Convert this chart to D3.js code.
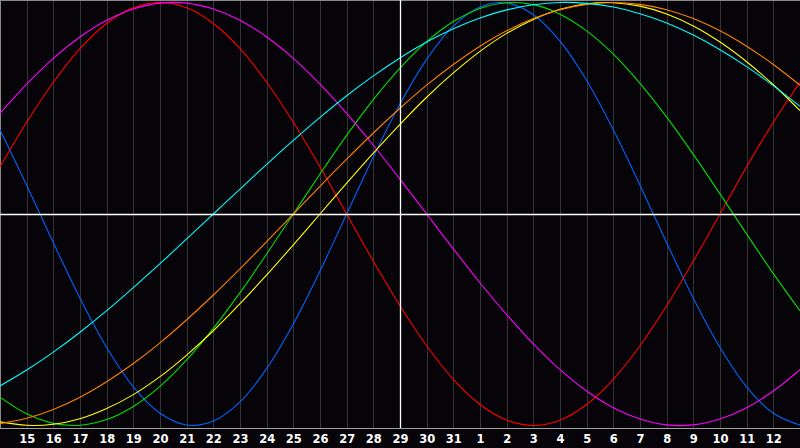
<!DOCTYPE html>
<html>
<head>
<meta charset="utf-8">
<script src="https://cdn.jsdelivr.net/npm/d3@7"></script>
<style>
html,body{margin:0;padding:0;background:#060409;}
svg{display:block;}
</style>
</head>
<body>
<svg id="chart" width="800" height="448"></svg>
<script>
// Day labels (gridlines 1..29); index 0 = day 14, index 30 = day 13 of next month
const dayLabels = ["15","16","17","18","19","20","21","22","23","24","25","26","27","28","29","30","31","1","2","3","4","5","6","7","8","9","10","11","12"];

// Cycle values per day (index 0..30)
const physical = [0.398,0.136,-0.136,-0.398,-0.631,-0.817,-0.942,-0.998,-0.979,-0.888,-0.731,-0.520,-0.270,0,0.270,0.520,0.731,0.888,0.979,0.998,0.942,0.817,0.631,0.398,0.136,-0.136,-0.398,-0.631,-0.817,-0.942,-0.998];
const emotional = [0.223,0.434,0.623,0.782,0.901,0.975,1,0.975,0.901,0.782,0.623,0.434,0.223,0,-0.223,-0.434,-0.623,-0.782,-0.901,-0.975,-1,-0.975,-0.901,-0.782,-0.623,-0.434,-0.223,0,0.223,0.434,0.623];
const intellectual = [-0.866,-0.945,-0.990,-0.999,-0.972,-0.910,-0.815,-0.690,-0.541,-0.372,-0.189,0,0.189,0.372,0.541,0.690,0.815,0.910,0.972,0.999,0.990,0.945,0.866,0.756,0.618,0.458,0.282,0.095,-0.095,-0.282,-0.458];
const intuitive = [0.476,0.614,0.736,0.837,0.916,0.969,0.997,0.997,0.969,0.916,0.837,0.736,0.614,0.476,0.325,0.165,0,-0.165,-0.325,-0.476,-0.614,-0.736,-0.837,-0.916,-0.969,-0.997,-0.997,-0.969,-0.916,-0.837,-0.736];
const aesthetic = [-0.983,-0.999,-0.994,-0.968,-0.920,-0.854,-0.769,-0.667,-0.552,-0.424,-0.288,-0.146,0,0.146,0.288,0.424,0.552,0.667,0.769,0.854,0.920,0.968,0.994,0.999,0.983,0.946,0.889,0.813,0.720,0.611,0.489];
const awareness = [-0.991,-0.966,-0.924,-0.866,-0.793,-0.707,-0.609,-0.5,-0.383,-0.259,-0.131,0,0.131,0.259,0.383,0.5,0.609,0.707,0.793,0.866,0.924,0.966,0.991,1,0.991,0.966,0.924,0.866,0.793,0.707,0.609];
const spiritual = [-0.813,-0.738,-0.653,-0.559,-0.457,-0.348,-0.235,-0.118,0,0.118,0.235,0.348,0.457,0.559,0.653,0.738,0.813,0.876,0.927,0.965,0.989,1.000,0.996,0.979,0.947,0.903,0.846,0.777,0.697,0.607,0.509];

const seriesNames = ["physical","emotional","intellectual","intuitive","aesthetic","awareness","spiritual"];
const seriesColors = ["#0064ff","#ff0000","#00e000","#ff00ff","#ffff00","#ff8000","#00ffff"];
const seriesData = [physical, emotional, intellectual, intuitive, aesthetic, awareness, spiritual];

const svg = d3.select("#chart");
const W = 800, H = 448;
const x = d3.scaleLinear().domain([0, 30]).range([0, 800]);
const y = d3.scaleLinear().domain([-1, 1]).range([425.5, 2.5]);
const plotBottom = 428.5;

svg.append("rect").attr("width", W).attr("height", H).attr("fill", "#060409");

// vertical day gridlines
svg.append("g").selectAll("line").data(dayLabels).join("line")
  .attr("x1", (d, i) => Math.round(x(i + 1)) + 0.5)
  .attr("x2", (d, i) => Math.round(x(i + 1)) + 0.5)
  .attr("y1", 0).attr("y2", plotBottom)
  .attr("stroke", "#343434").attr("stroke-width", 1);

// frame (top, left)
svg.append("line").attr("x1", 0).attr("x2", W).attr("y1", 0.5).attr("y2", 0.5).attr("stroke", "#8a8a8a");
svg.append("line").attr("x1", 0.5).attr("x2", 0.5).attr("y1", 0).attr("y2", plotBottom).attr("stroke", "#8a8a8a");

// series
const line = d3.line().x((d, i) => x(i)).y(d => y(d)).curve(d3.curveCatmullRom.alpha(0.5));
svg.append("g").selectAll("path").data(seriesData).join("path")
  .attr("d", d => line(d))
  .attr("fill", "none")
  .attr("stroke", (d, i) => seriesColors[i])
  .attr("stroke-width", 1.1);

// center crosshair
svg.append("line").attr("x1", 0).attr("x2", W).attr("y1", Math.round(y(0)) + 0.5).attr("y2", Math.round(y(0)) + 0.5).attr("stroke", "#ffffff").attr("stroke-width", 1.5);
svg.append("line").attr("x1", x(15) + 0.5).attr("x2", x(15) + 0.5).attr("y1", 0).attr("y2", plotBottom).attr("stroke", "#ffffff").attr("stroke-width", 1.3);

// bottom axis line
svg.append("line").attr("x1", 0).attr("x2", W).attr("y1", plotBottom).attr("y2", plotBottom).attr("stroke", "#a0a0a0").attr("stroke-width", 1.2);

// day labels
svg.append("g").selectAll("text").data(dayLabels).join("text")
  .attr("x", (d, i) => x(i + 1) + 0.5)
  .attr("y", 442.5)
  .attr("text-anchor", "middle")
  .attr("fill", "#ffffff")
  .attr("font-family", "'DejaVu Sans', sans-serif")
  .attr("font-weight", "bold")
  .attr("font-size", "11.5px")
  .text(d => d);
</script>
</body>
</html>
